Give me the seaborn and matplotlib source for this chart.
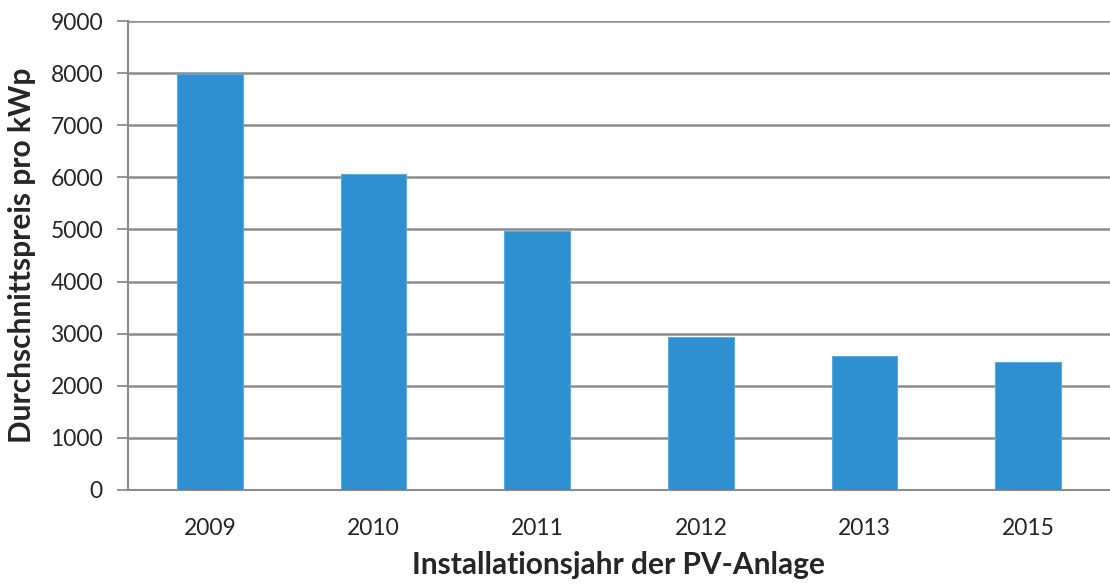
import matplotlib
matplotlib.use("Agg")
import matplotlib.pyplot as plt
import pandas as pd
import seaborn as sns

# values
years = ["2009", "2010", "2011", "2012", "2013", "2015"]
prices = [7975, 6070, 4975, 2945, 2575, 2460]

df = pd.DataFrame({"Jahr": years, "Preis": prices})

sns.set_style("white")
plt.rcParams["font.family"] = ["Lato", "DejaVu Sans"]

fig = plt.figure(figsize=(11.1, 5.85), dpi=100)
ax = fig.add_axes([128 / 1110, 1 - 490 / 585, (1110 - 128) / 1110, (490 - 21) / 585])

sns.barplot(data=df, x="Jahr", y="Preis", color="#2E8FD1", width=0.4,
            edgecolor="#5AAAE0", linewidth=0.8, saturation=1, ax=ax, zorder=3)

ax.set_ylim(0, 9000)
ax.set_xlim(-0.5, len(years) - 0.5)
ax.set_yticks(range(0, 9001, 1000))
ax.yaxis.grid(True, color="#8C8C8C", linewidth=1.8, zorder=0)
ax.set_axisbelow(True)

for side in ["top", "right"]:
    ax.spines[side].set_visible(False)
for side in ["left", "bottom"]:
    ax.spines[side].set_color("#8C8C8C")
    ax.spines[side].set_linewidth(1.5)

# category boundary ticks like the spreadsheet original
ax.set_xticks([i - 0.5 for i in range(len(years) + 1)], minor=True)
ax.tick_params(axis="x", which="minor", length=8, width=1.3, color="#8C8C8C", direction="out")
ax.tick_params(axis="x", which="major", length=0, labelsize=16.5, pad=20)
ax.tick_params(axis="y", length=8, width=1.3, color="#8C8C8C", direction="out",
               left=True, labelsize=16.5, pad=10)

ax.set_xlabel("Installationsjahr der PV-Anlage", fontsize=21.5, fontweight="bold", labelpad=9)
ax.set_ylabel("Durchschnittspreis pro kWp", fontsize=21.5, fontweight="bold", labelpad=10)

fig.savefig("out.png", dpi=100)
